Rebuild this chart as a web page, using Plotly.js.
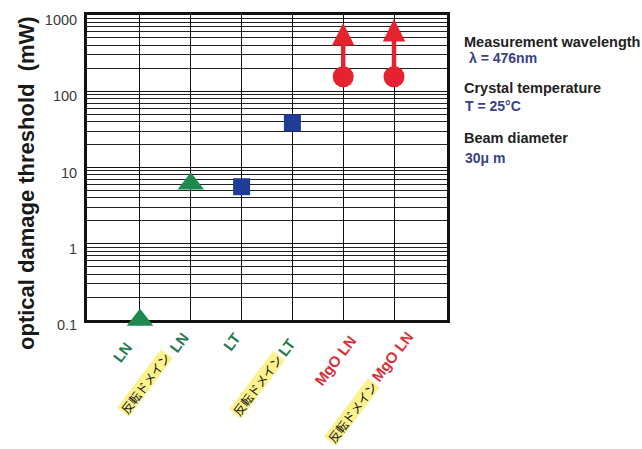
<!DOCTYPE html>
<html><head><meta charset="utf-8">
<script src="https://cdn.plot.ly/plotly-3.0.1.min.js"></script>
<style>html,body{margin:0;padding:0;background:#fff}#chart{width:642px;height:449px}</style>
</head><body><div id="chart"></div>
<script>
// ---- data ----
const categories = ['LN', '反転ドメイン LN', 'LT', '反転ドメイン LT', 'MgO LN', '反転ドメイン MgO LN'];
const labelPrefix = ['', '反転ドメイン', '', '反転ドメイン', '', '反転ドメイン'];
const labelBase = ['LN', 'LN', 'LT', 'LT', 'MgO LN', 'MgO LN'];
const lnCats = ['LN', '反転ドメイン LN'];
const lnValues = [0.1, 6.1];
const ltCats = ['LT', '反転ドメイン LT'];
const ltValues = [5.6, 38.5];
const mgoCats = ['MgO LN', '反転ドメイン MgO LN'];
const mgoValues = [155, 155];
const mgoArrowTop = [785, 885];
const yTickVals = [0.1, 1, 10, 100, 1000];
const yTickText = ['0.1', '1', '10', '100', '1000'];
const condTitles = ['Measurement wavelength', 'Crystal temperature', 'Beam diameter'];
const condValues = ['λ = 476nm', 'T = 25°C', '30μ m'];
const yTitle = 'optical damage threshold\u00a0 (mW)';

// ---- layout helpers ----
const W = 642, H = 449;
const PL = 87, PT = 15, PW = 360, PH = 305;
const px2x = p => (p - PL) / PW;
const px2y = p => (PT + PH - p) / PH;

const GREEN = '#1f8a4e', BLUE = '#1f3d96', RED = '#e4232f';
const LBL_GREEN = '#1f7a4d', LBL_RED = '#d9303c';
const FONT = 'Liberation Sans, Arial, Helvetica, sans-serif';
const JFONT = 'Noto Sans CJK JP, sans-serif';

const minorVals = [];
[0.1, 1, 10, 100].forEach(d => { for (let k = 2; k <= 9; k++) minorVals.push(+(k * d).toPrecision(3)); });

const traces = [
  {x: lnCats, y: lnValues, type: 'scatter', mode: 'markers', cliponaxis: false, name: 'LN',
   marker: {symbol: 'triangle-up', size: 23, color: GREEN}},
  {x: ltCats, y: ltValues, type: 'scatter', mode: 'markers', cliponaxis: false, name: 'LT',
   marker: {symbol: 'square', size: 17, color: BLUE}},
  {x: mgoCats, y: mgoValues, type: 'scatter', mode: 'markers', cliponaxis: false, name: 'MgO LN',
   marker: {symbol: 'circle', size: 21, color: RED}}
];

const annotations = [];
// arrows (lower-bound indicators)
mgoCats.forEach((c, i) => {
  const idx = categories.indexOf(c);
  annotations.push({x: idx, y: Math.log10(mgoArrowTop[i]), xref: 'x', yref: 'y',
    ax: idx, ay: Math.log10(mgoValues[i]), axref: 'x', ayref: 'y',
    text: '', showarrow: true, arrowhead: 2, arrowsize: 1.0, arrowwidth: 4.5,
    arrowcolor: RED, standoff: 0});
});

// category labels (rotated)
const baseCenters = [[122, 352], [179, 342.5], [231, 342], [286.5, 347.5], [335, 360], [392, 356]];
const prefCenters = [null, [145, 383], null, [257, 385], null, [352, 412]];
const ANG = -53;
categories.forEach((c, i) => {
  const col = labelBase[i].indexOf('MgO') >= 0 ? LBL_RED : LBL_GREEN;
  annotations.push({xref: 'paper', yref: 'paper', x: px2x(baseCenters[i][0]), y: px2y(baseCenters[i][1]),
    xanchor: 'center', yanchor: 'middle', textangle: ANG, showarrow: false,
    text: '<b>' + labelBase[i] + '</b>', font: {family: FONT, size: 15, color: col}});
  if (labelPrefix[i]) {
    annotations.push({xref: 'paper', yref: 'paper', x: px2x(prefCenters[i][0]), y: px2y(prefCenters[i][1]),
      xanchor: 'center', yanchor: 'middle', textangle: ANG, showarrow: false,
      text: labelPrefix[i], bgcolor: '#fbf28e', borderpad: 0, height: 14, valign: 'middle',
      font: {family: JFONT, size: 12, color: '#111'}});
  }
});

// y-axis title
annotations.push({xref: 'paper', yref: 'paper', x: px2x(26), y: px2y(183), xanchor: 'center', yanchor: 'middle',
  textangle: -90, showarrow: false, text: '<b>' + yTitle + '</b>', font: {family: FONT, size: 22, color: '#1a1a1a'}});

// measurement conditions
const condTitleY = [42, 88, 137.5];
const condValueY = [57.5, 106, 157.5];
const condValueX = [467, 463, 463];
condTitles.forEach((t, i) => {
  annotations.push({xref: 'paper', yref: 'paper', x: px2x(462), y: px2y(condTitleY[i]), xanchor: 'left', yanchor: 'middle',
    showarrow: false, text: '<b>' + t + '</b>', font: {family: FONT, size: 14.5, color: '#222'}});
  annotations.push({xref: 'paper', yref: 'paper', x: px2x(condValueX[i]), y: px2y(condValueY[i]), xanchor: 'left', yanchor: 'middle',
    showarrow: false, text: '<b>' + condValues[i] + '</b>', font: {family: FONT, size: 14, color: '#3a3f8a'}});
});

const layout = {
  width: W, height: H,
  margin: {l: PL, r: W - PL - PW, t: PT, b: H - PT - PH, pad: 0},
  paper_bgcolor: '#fff', plot_bgcolor: '#fff',
  showlegend: false,
  xaxis: {type: 'category', categoryorder: 'array', categoryarray: categories,
    range: [-1.043, 6.043], showticklabels: false, ticks: '',
    showgrid: true, gridcolor: '#111', gridwidth: 1, zeroline: false,
    showline: true, linecolor: '#111', linewidth: 3, mirror: true, layer: 'below traces', fixedrange: true},
  yaxis: {type: 'log', range: [-1, 3], tickmode: 'array', tickvals: yTickVals, ticktext: yTickText,
    ticks: '', showgrid: true, gridcolor: '#111', gridwidth: 1, zeroline: false,
    minor: {tickmode: 'array', tickvals: minorVals, showgrid: true, gridcolor: '#222', gridwidth: 1, ticks: ''},
    showline: true, linecolor: '#111', linewidth: 3, mirror: true,
    tickfont: {family: FONT, size: 14.5, color: '#3a3a3a'}, ticklabelshift: 5, ticklabelstandoff: 4,
    layer: 'below traces', fixedrange: true},
  annotations: annotations
};

Plotly.newPlot('chart', traces, layout, {displayModeBar: false, staticPlot: true});
</script></body></html>
